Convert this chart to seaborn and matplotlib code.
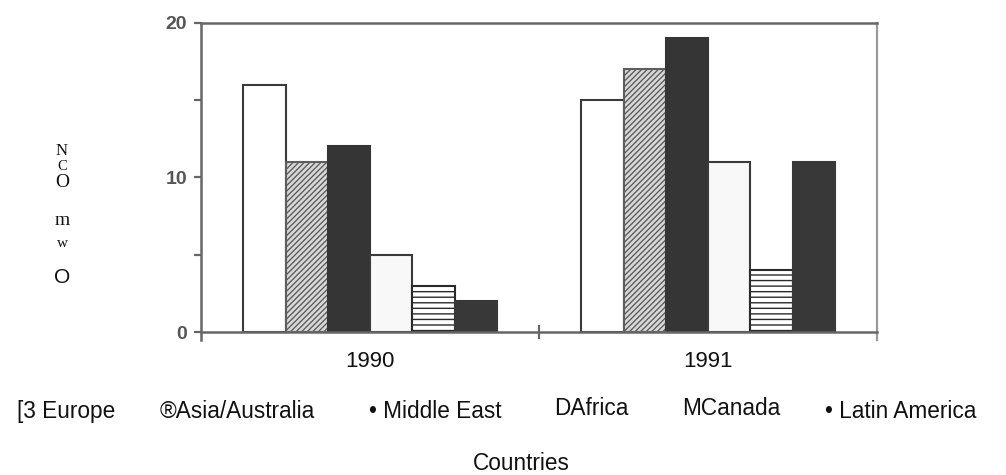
import numpy as np
import pandas as pd
import matplotlib
matplotlib.use("Agg")
import matplotlib.pyplot as plt
import seaborn as sns
from matplotlib.ticker import FixedLocator

# ---- data ----
years = ["1990", "1991"]
regions = ["Europe", "Asia/Australia", "Middle East", "Africa", "Canada", "Latin America"]
europe = [16, 15]
asia_australia = [11, 17]
middle_east = [12, 19]
africa = [5, 11]
canada = [3, 4]
latin_america = [2, 11]
legend_labels = ["[3 Europe", "®Asia/Australia", "• Middle East", "DAfrica", "MCanada", "• Latin America"]
ylabel_chars = ["N", "C", "O", "m", "w", "O"]
y_ticks = [0, 10, 20]
x_title = "Countries"

series = [europe, asia_australia, middle_east, africa, canada, latin_america]
rows = []
for reg, vals in zip(regions, series):
    for yr, v in zip(years, vals):
        rows.append({"year": yr, "region": reg, "value": v})
df = pd.DataFrame(rows)

sns.set_theme(style="white")
plt.rcParams["font.family"] = ["Liberation Sans", "DejaVu Sans"]
plt.rcParams["hatch.linewidth"] = 1.0

fig = plt.figure(figsize=(10.06, 4.75), dpi=100)
ax = fig.add_axes([0.1998, 0.301, 0.6720, 0.651])

sns.barplot(data=df, x="year", y="value", hue="region", order=years,
            hue_order=regions, width=0.75, legend=False, ax=ax)

styles = [
    dict(fc="#ffffff", ec="#3a3a3a", hatch=None),
    dict(fc="#d9d9d9", ec="#5e5e5e", hatch="//////"),
    dict(fc="#353535", ec="#353535", hatch=None),
    dict(fc="#f8f8f8", ec="#3a3a3a", hatch=None),
    dict(fc="#ffffff", ec="#2a2a2a", hatch="---"),
    dict(fc="#383838", ec="#383838", hatch=None),
]
for cont, st in zip(ax.containers, styles):
    for bar in cont:
        bar.set_facecolor(st["fc"])
        bar.set_edgecolor(st["ec"])
        bar.set_linewidth(1.5)
        if st["hatch"]:
            bar.set_hatch(st["hatch"])

ax.set_xlim(-0.5, 1.5)
ax.set_ylim(0, 20)
ax.set_xlabel("")
ax.set_ylabel("")

for side in ["top", "left", "bottom"]:
    ax.spines[side].set_color("#666666")
    ax.spines[side].set_linewidth(1.8)
ax.spines["right"].set_color("#9a9a9a")
ax.spines["right"].set_linewidth(1.6)
ax.spines["left"].set_bounds(-0.5, 20)
ax.spines["right"].set_bounds(-0.5, 20)

ax.set_yticks(y_ticks)
ax.yaxis.set_minor_locator(FixedLocator([5, 15]))
ax.tick_params(axis="y", which="both", direction="out", length=5, width=1.6,
               color="#666666", left=True)
ax.tick_params(axis="y", which="major", labelsize=14, labelcolor="#555555", pad=5)
for lab in ax.get_yticklabels():
    lab.set_fontweight("bold")

ax.set_xticks([0, 1])
ax.set_xticklabels(years)
ax.xaxis.set_minor_locator(FixedLocator([0.5]))
ax.tick_params(axis="x", which="major", length=0, labelsize=16, pad=14, labelcolor="#111111")
ax.tick_params(axis="x", which="minor", direction="inout", length=10, width=1.6,
               color="#666666", bottom=True)

# garbled y-axis label (OCR characters)
ylab_pos = [(155, 12, "serif"), (170, 10.5, "serif"), (187, 14, "serif"),
            (225, 14, "serif"), (247, 11, "serif"), (283, 15, "sans")]
for ch, (yb, fs, fam) in zip(ylabel_chars, ylab_pos):
    family = ["Liberation Serif", "DejaVu Serif"] if fam == "serif" else ["Liberation Sans", "DejaVu Sans"]
    fig.text(62 / 1006, 1 - yb / 475, ch, ha="center", va="baseline",
             fontsize=fs, family=family, color="#111111")

# legend row (plain text)
leg_x = [17, 160, 369, 554, 682, 825]
leg_y = [418, 418, 418, 415, 415, 418]
for txt, lx, ly in zip(legend_labels, leg_x, leg_y):
    fig.text(lx / 1006, 1 - ly / 475, txt, ha="left", va="baseline",
             fontsize=16.3, color="#111111")

fig.text(521 / 1006, 1 - 470 / 475, x_title, ha="center", va="baseline",
         fontsize=16.3, color="#111111")

fig.savefig("out.png", dpi=100, facecolor="white")
